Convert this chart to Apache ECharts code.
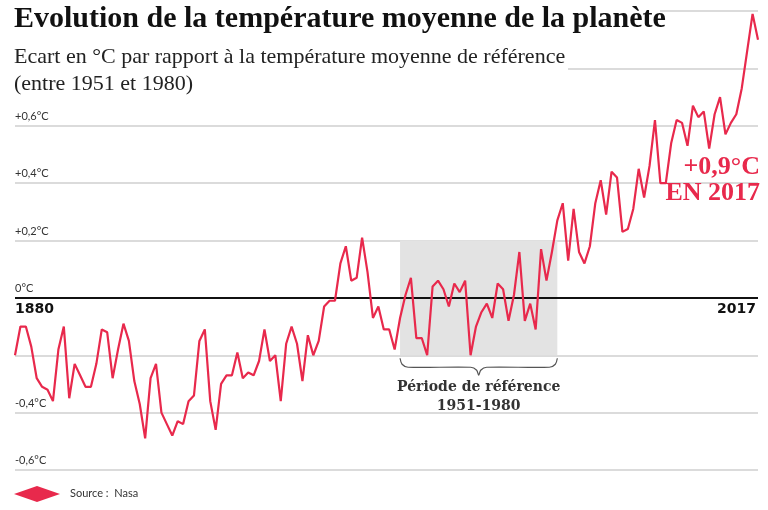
<!DOCTYPE html>
<html>
<head>
<meta charset="utf-8">
<script src="https://cdn.jsdelivr.net/npm/echarts@6/dist/echarts.min.js"></script>
<style>html,body{margin:0;padding:0;background:#fff}#chart{width:768px;height:510px}</style>
</head>
<body>
<div id="chart"></div>
<script>
// Années et écarts (°C, référence 1951-1980)
const firstYear = 1880;
const anomalies = [
  -0.20, -0.10, -0.10, -0.17, -0.28, -0.31, -0.32, -0.36, -0.18, -0.10,
  -0.35, -0.23, -0.27, -0.31, -0.31, -0.23, -0.11, -0.12, -0.28, -0.18,
  -0.09, -0.15, -0.29, -0.37, -0.49, -0.28, -0.23, -0.40, -0.44, -0.48,
  -0.43, -0.44, -0.36, -0.34, -0.15, -0.11, -0.36, -0.46, -0.30, -0.27,
  -0.27, -0.19, -0.28, -0.26, -0.27, -0.22, -0.11, -0.22, -0.20, -0.36,
  -0.16, -0.10, -0.16, -0.29, -0.13, -0.20, -0.15, -0.03, -0.01, -0.01,
  0.12, 0.18, 0.06, 0.07, 0.21, 0.09, -0.07, -0.03, -0.11, -0.11,
  -0.18, -0.07, 0.01, 0.07, -0.14, -0.14, -0.20, 0.04, 0.06, 0.03,
  -0.03, 0.05, 0.02, 0.06, -0.20, -0.10, -0.05, -0.02, -0.07, 0.05,
  0.03, -0.08, 0.01, 0.16, -0.08, -0.02, -0.11, 0.17, 0.06, 0.16,
  0.27, 0.33, 0.13, 0.31, 0.16, 0.12, 0.18, 0.33, 0.41, 0.29,
  0.44, 0.42, 0.23, 0.24, 0.31, 0.45, 0.35, 0.46, 0.62, 0.40,
  0.40, 0.54, 0.62, 0.61, 0.53, 0.67, 0.63, 0.65, 0.52, 0.64,
  0.70, 0.57, 0.61, 0.64, 0.73, 0.86, 0.99, 0.90
];
const yTicks = { '-0.6': '-0,6°C', '-0.4': '-0,4°C', '0': '0°C', '0.2': '+0,2°C', '0.4': '+0,4°C', '0.6': '+0,6°C' };
const periodStart = 1951, periodEnd = 1980;

const red = '#e8294c';
const points = anomalies.map((v, i) => [firstYear + i, v]);
const chart = echarts.init(document.getElementById('chart'));

chart.setOption({
  animation: false,
  grid: { left: 15, right: 10, top: 11, bottom: 40 },
  xAxis: { type: 'value', min: 1880, max: 2017, show: false },
  yAxis: {
    type: 'value', min: -0.6, max: 1.0, interval: 0.2,
    axisLine: { show: false }, axisTick: { show: false },
    splitLine: { lineStyle: { color: '#cfcfcf', width: 1.5 } },
    axisLabel: {
      inside: true, verticalAlign: 'bottom', margin: 0, color: '#333',
      fontFamily: 'Lato', fontSize: 11, padding: [0, 0, 4, 0],
      formatter: v => yTicks[String(Math.round(v * 10) / 10)] || ''
    }
  },
  series: [{
    type: 'line', data: points, symbol: 'none', z: 5,
    lineStyle: { color: red, width: 2.2 },
    markArea: {
      silent: true, itemStyle: { color: '#e3e3e3' },
      data: [[{ xAxis: periodStart, yAxis: 0.2 }, { xAxis: periodEnd, yAxis: -0.2 }]]
    },
    markLine: {
      silent: true, symbol: 'none', label: { show: false },
      lineStyle: { color: '#111', width: 2, type: 'solid' },
      data: [{ yAxis: 0 }]
    }
  }]
});

const p0 = chart.convertToPixel({ gridIndex: 0 }, [periodStart, -0.2]);
const p1 = chart.convertToPixel({ gridIndex: 0 }, [periodEnd, -0.2]);
const mid = (p0[0] + p1[0]) / 2, by = p0[1] + 3;
// accolade sous la période de référence
const bracePts = [
  [p0[0], by], [p0[0] + 2, by + 6], [p0[0] + 8, by + 9], [mid - 8, by + 9],
  [mid - 2, by + 12], [mid, by + 17], [mid + 2, by + 12], [mid + 8, by + 9],
  [p1[0] - 8, by + 9], [p1[0] - 2, by + 6], [p1[0], by]
];

chart.setOption({
  graphic: [
    { type: 'rect', shape: { x: 0, y: 0, width: 660, height: 40 }, style: { fill: '#fff' }, z: 1 },
    { type: 'rect', shape: { x: 0, y: 40, width: 568, height: 60 }, style: { fill: '#fff' }, z: 1 },
    { type: 'text', x: 14, y: 4, z: 10, style: { text: 'Evolution de la température moyenne de la planète', fontSize: 30, fontWeight: 'bold', fontFamily: 'Liberation Sans Narrow', fill: '#111' } },
    { type: 'text', x: 14, y: 44, z: 10, style: { text: 'Ecart en °C par rapport à la température moyenne de référence\n(entre 1951 et 1980)', fontSize: 22, fontFamily: 'Liberation Sans Narrow', lineHeight: 27, fill: '#222' } },
    { type: 'text', x: 15, y: 302, z: 10, style: { text: '1880', fontSize: 14, fontWeight: 'bold', fontFamily: 'DejaVu Sans', fill: '#111' } },
    { type: 'text', x: 756, y: 302, z: 10, style: { text: '2017', align: 'right', fontSize: 14, fontWeight: 'bold', fontFamily: 'DejaVu Sans', fill: '#111' } },
    { type: 'text', x: 760, y: 154, z: 10, style: { text: '+0,9°C\nEN 2017', align: 'right', fontSize: 26, fontWeight: 'bold', fontFamily: 'Liberation Sans Narrow', lineHeight: 26, fill: red } },
    { type: 'polyline', z: 10, shape: { points: bracePts, smooth: 0.3 }, style: { fill: null, stroke: '#555', lineWidth: 1.2 } },
    { type: 'text', x: mid, y: by + 20, z: 10, style: { text: 'Période de référence\n1951-1980', align: 'center', fontSize: 14, fontWeight: 'bold', fontFamily: 'DejaVu Serif', lineHeight: 19, fill: '#333' } },
    { type: 'polygon', z: 10, shape: { points: [[14, 494], [37, 486], [60, 494], [37, 502]] }, style: { fill: red } },
    { type: 'text', x: 70, y: 488, z: 10, style: { text: 'Source :  Nasa', fontSize: 11, fontFamily: 'Lato', fill: '#333' } }
  ]
});
</script>
</body>
</html>
